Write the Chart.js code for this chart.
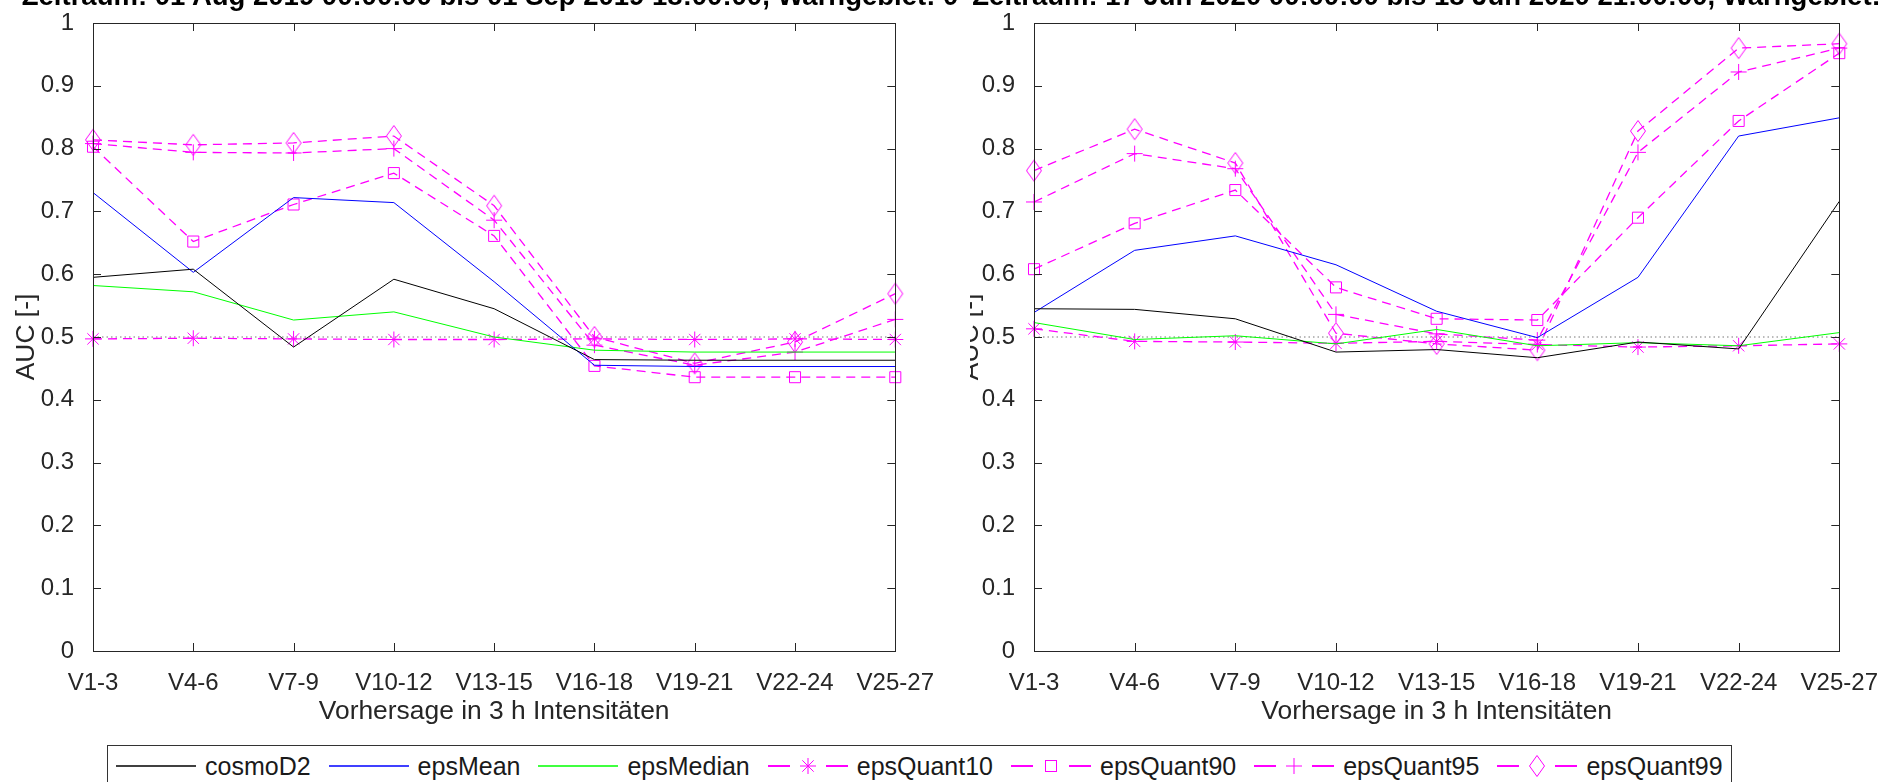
<!DOCTYPE html>
<html>
<head>
<meta charset="utf-8">
<script src="https://cdn.jsdelivr.net/npm/chart.js@4"></script>
<style>
  body { margin:0; background:#fff; width:1888px; height:782px; overflow:hidden; position:relative;
         font-family:"Liberation Sans", Arial, sans-serif; }
  canvas { position:absolute; top:0; }
  #cLeft { left:0; }
  #cRight { left:970px; }
  .title { position:absolute; top:-18px; font-weight:bold; font-size:27.5px; line-height:27px;
           white-space:nowrap; color:#000; transform:translateX(-50%); }
  #legend { position:absolute; left:107px; top:745px; height:40px; border:1px solid #333;
            display:flex; align-items:center; padding:0 8px 0 8px; font-size:25px; color:#1a1a1a;
            background:#fff; }
  #legend .item { display:flex; align-items:center; margin-right:18px; white-space:nowrap; }
  #legend .item:last-child { margin-right:0; }
  #legend svg { margin-right:9px; }
</style>
</head>
<body>
<canvas id="cLeft" width="944" height="745"></canvas>
<canvas id="cRight" width="918" height="745"></canvas>
<div class="title" style="left:490px">Zeitraum: 01 Aug 2019 00:00:00 bis 01 Sep 2019 18:00:00, Warngebiet: 0</div>
<div class="title" style="left:1438px">Zeitraum: 17 Jun 2020 00:00:00 bis 18 Jun 2020 21:00:00, Warngebiet: 0</div>
<div id="legend"></div>

<script>
// forecast intervals (x axis)
const categories = ['V1-3', 'V4-6', 'V7-9', 'V10-12', 'V13-15', 'V16-18', 'V19-21', 'V22-24', 'V25-27'];

// left panel: Aug 2019
const cosmoD2L    = [0.595, 0.608, 0.484, 0.592, 0.545, 0.464, 0.463, 0.463, 0.463];
const epsMeanL    = [0.730, 0.603, 0.722, 0.714, 0.588, 0.455, 0.453, 0.453, 0.453];
const epsMedianL  = [0.582, 0.572, 0.527, 0.540, 0.500, 0.479, 0.476, 0.476, 0.476];
const epsQuant10L = [0.497, 0.498, 0.497, 0.496, 0.496, 0.497, 0.496, 0.497, 0.496];
const epsQuant90L = [0.803, 0.652, 0.711, 0.761, 0.661, 0.454, 0.436, 0.436, 0.436];
const epsQuant95L = [0.808, 0.794, 0.793, 0.800, 0.686, 0.487, 0.455, 0.476, 0.528];
const epsQuant99L = [0.814, 0.806, 0.809, 0.820, 0.709, 0.500, 0.458, 0.492, 0.569];

// right panel: Jun 2020
const cosmoD2R    = [0.545, 0.544, 0.529, 0.476, 0.480, 0.467, 0.492, 0.481, 0.716];
const epsMeanR    = [0.539, 0.638, 0.661, 0.615, 0.541, 0.499, 0.595, 0.820, 0.849];
const epsMedianR  = [0.523, 0.496, 0.502, 0.489, 0.512, 0.486, 0.491, 0.486, 0.507];
const epsQuant10R = [0.513, 0.493, 0.492, 0.490, 0.493, 0.488, 0.484, 0.486, 0.489];
const epsQuant90R = [0.608, 0.681, 0.734, 0.579, 0.529, 0.527, 0.690, 0.844, 0.952];
const epsQuant95R = [0.715, 0.792, 0.768, 0.536, 0.505, 0.495, 0.794, 0.922, 0.960];
const epsQuant99R = [0.765, 0.831, 0.777, 0.506, 0.489, 0.479, 0.828, 0.960, 0.967];

// no-skill reference line
const refLine = [0.5, 0.5, 0.5, 0.5, 0.5, 0.5, 0.5, 0.5, 0.5];

const yTicks = [0, 0.1, 0.2, 0.3, 0.4, 0.5, 0.6, 0.7, 0.8, 0.9, 1];
const yTickLabels = ['0', '0.1', '0.2', '0.3', '0.4', '0.5', '0.6', '0.7', '0.8', '0.9', '1'];

const FONT = '"Liberation Sans", Arial, sans-serif';
const AXIS = '#262626';
const MAG = '#ff00ff';

// tall matlab-like diamond marker
const diamond = document.createElement('canvas');
diamond.width = 18; diamond.height = 24;
(() => {
  const g = diamond.getContext('2d');
  g.strokeStyle = MAG; g.lineWidth = 1;
  g.beginPath();
  g.moveTo(9, 1.5); g.lineTo(16.5, 12); g.lineTo(9, 22.5); g.lineTo(1.5, 12);
  g.closePath(); g.stroke();
})();

function solid(label, data, color) {
  return { label, data, borderColor: color, backgroundColor: color, borderWidth: 1,
           pointRadius: 0, pointHoverRadius: 0 };
}
function dashed(label, data, style, r) {
  return { label, data, borderColor: MAG, backgroundColor: 'transparent', borderWidth: 1.3,
           borderDash: [9, 6], pointStyle: style, pointRadius: r, pointBorderWidth: 1,
           pointBorderColor: MAG, pointBackgroundColor: 'transparent', clip: false };
}

// box + inward ticks on all four sides
const axesBox = {
  id: 'axesBox',
  afterDatasetsDraw(chart) {
    const { ctx, chartArea: a, scales: { x, y } } = chart;
    const L = 8;
    ctx.save();
    ctx.strokeStyle = AXIS;
    ctx.lineWidth = 1;
    ctx.beginPath();
    x.ticks.forEach((t, i) => {
      const px = Math.round(x.getPixelForTick(i)) + 0.5;
      ctx.moveTo(px, a.bottom); ctx.lineTo(px, a.bottom - L);
      ctx.moveTo(px, a.top); ctx.lineTo(px, a.top + L);
    });
    y.ticks.forEach((t, i) => {
      const py = Math.round(y.getPixelForTick(i)) + 0.5;
      ctx.moveTo(a.left, py); ctx.lineTo(a.left + L, py);
      ctx.moveTo(a.right, py); ctx.lineTo(a.right - L, py);
    });
    ctx.stroke();
    ctx.strokeRect(Math.round(a.left) + 0.5, Math.round(a.top) + 0.5,
                   Math.round(a.right - a.left), Math.round(a.bottom - a.top));
    ctx.restore();
  }
};

function makeChart(id, s, yWidth, padRight, yTitlePad) {
  return new Chart(document.getElementById(id), {
    type: 'line',
    data: {
      labels: categories,
      datasets: [
        solid('cosmoD2', s[0], '#000000'),
        solid('epsMean', s[1], '#0000ff'),
        solid('epsMedian', s[2], '#00ff00'),
        dashed('epsQuant10', s[3], 'star', 8),
        dashed('epsQuant90', s[4], 'rect', 7.8),
        dashed('epsQuant95', s[5], 'cross', 8),
        dashed('epsQuant99', s[6], diamond, 9),
        { label: 'ref', data: refLine, borderColor: '#777', borderWidth: 1, borderDash: [1.5, 3],
          pointRadius: 0 }
      ]
    },
    options: {
      responsive: false,
      animation: false,
      events: [],
      layout: { padding: { left: 0, top: 12, right: padRight, bottom: 0 } },
      plugins: { legend: { display: false }, tooltip: { enabled: false } },
      scales: {
        x: {
          type: 'category',
          offset: false,
          grid: { display: false },
          border: { display: false },
          ticks: { color: AXIS, font: { family: FONT, size: 24 }, padding: 10,
                   maxRotation: 0, autoSkip: false },
          title: { display: true, text: 'Vorhersage in 3 h Intensitäten', color: AXIS,
                   font: { family: FONT, size: 26.4 }, padding: { top: 0, bottom: 17 } },
          afterFit(sc) { sc.height = 94; }
        },
        y: {
          min: 0, max: 1,
          grid: { display: false },
          border: { display: false },
          afterBuildTicks(sc) { sc.ticks = yTicks.map(v => ({ value: v })); },
          ticks: { color: AXIS, font: { family: FONT, size: 24, lineHeight: 1 }, padding: 11,
                   callback: (v, i) => yTickLabels[i] },
          title: { display: true, text: 'AUC [-]', color: AXIS,
                   font: { family: FONT, size: 26.4 }, padding: { top: yTitlePad, bottom: 0 } },
          afterFit(sc) { sc.width = yWidth; }
        }
      }
    },
    plugins: [axesBox]
  });
}

makeChart('cLeft',
  [cosmoD2L, epsMeanL, epsMedianL, epsQuant10L, epsQuant90L, epsQuant95L, epsQuant99L],
  93, 41, 10.7);
makeChart('cRight',
  [cosmoD2R, epsMeanR, epsMedianR, epsQuant10R, epsQuant90R, epsQuant95R, epsQuant99R],
  64, 45, -14.8);

// legend
const legendItems = [
  { name: 'cosmoD2', color: '#000000', marker: null },
  { name: 'epsMean', color: '#0000ff', marker: null },
  { name: 'epsMedian', color: '#00ff00', marker: null },
  { name: 'epsQuant10', color: MAG, marker: 'star' },
  { name: 'epsQuant90', color: MAG, marker: 'square' },
  { name: 'epsQuant95', color: MAG, marker: 'plus' },
  { name: 'epsQuant99', color: MAG, marker: 'diamond' }
];
function sample(it) {
  const c = it.color;
  if (!it.marker) {
    return `<svg width="80" height="30"><line x1="0" y1="15" x2="80" y2="15" stroke="${c}" stroke-width="1.5"/></svg>`;
  }
  let m = '';
  if (it.marker === 'star') m = `<path d="M40 7V23M32 15H48M34.3 9.3L45.7 20.7M45.7 9.3L34.3 20.7" stroke="${c}" fill="none"/>`;
  if (it.marker === 'square') m = `<rect x="34.5" y="9.5" width="11" height="11" stroke="${c}" fill="none"/>`;
  if (it.marker === 'plus') m = `<path d="M40 7V23M32 15H48" stroke="${c}" fill="none"/>`;
  if (it.marker === 'diamond') m = `<path d="M40 4.5L47.5 15L40 25.5L32.5 15Z" stroke="${c}" fill="none"/>`;
  return `<svg width="80" height="30"><path d="M0 15H22M58 15H80" stroke="${c}" stroke-width="1.8"/>${m}</svg>`;
}
document.getElementById('legend').innerHTML = legendItems
  .map(it => `<span class="item">${sample(it)}<span>${it.name}</span></span>`).join('');
</script>
</body>
</html>
